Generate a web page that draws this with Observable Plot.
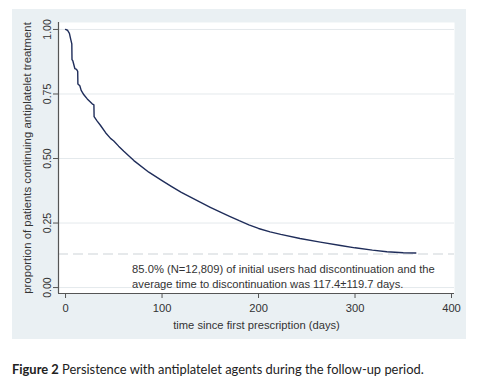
<!DOCTYPE html>
<html>
<head>
<meta charset="utf-8">
<script src="https://cdn.jsdelivr.net/npm/d3@7"></script>
<script src="https://cdn.jsdelivr.net/npm/@observablehq/plot@0.6"></script>
<style>
  html, body { margin: 0; padding: 0; background: #ffffff; }
  #wrap { position: relative; width: 483px; height: 392px; }
  #chart { position: absolute; left: 12px; top: 9px; }
  #caption { position: absolute; left: 12px; top: 362px; font-family: Lato, "Open Sans", sans-serif; font-size: 12.9px; line-height: 15px; color: #222; white-space: nowrap; }
  #caption b { font-weight: 700; }
</style>
</head>
<body>
<div id="wrap">
  <div id="chart"></div>
  <div id="caption"><b>Figure 2</b> Persistence with antiplatelet agents during the follow-up period.</div>
</div>
<script>
// Kaplan–Meier persistence curve
const days = [0, 2, 4, 5.5, 6.5, 6.7, 7.6, 9.7, 11.4, 12.6, 12.8, 14.8, 16.2, 19, 22.5, 27.6, 29.4, 29.6, 32.8, 36.3, 41.5, 46.6, 50, 55, 60.4, 70.8, 86.3, 100, 110, 120, 130, 140, 150, 160, 170, 180, 190, 200, 212, 223, 243, 264, 285, 300, 318, 333, 350, 363];
const proportion = [1.0, 0.997, 0.985, 0.96, 0.944, 0.883, 0.878, 0.848, 0.845, 0.838, 0.789, 0.782, 0.764, 0.747, 0.731, 0.712, 0.708, 0.662, 0.645, 0.628, 0.600, 0.578, 0.568, 0.548, 0.528, 0.492, 0.447, 0.414, 0.391, 0.369, 0.349, 0.330, 0.311, 0.293, 0.276, 0.259, 0.243, 0.229, 0.216, 0.206, 0.190, 0.176, 0.163, 0.154, 0.145, 0.139, 0.135, 0.134];
const referenceLevel = [0.13];
const xTicks = [0, 100, 200, 300, 400];
const yTicks = [0, 0.25, 0.5, 0.75, 1];
const yTickLabels = ["0.00", "0.25", "0.50", "0.75", "1.00"];
const xTitle = "time since first prescription (days)";
const yTitle = "proportion of patients continuing antiplatelet treatment";
const noteLines = ["85.0% (N=12,809) of initial users had discontinuation and the", "average time to discontinuation was 117.4\u00b1119.7 days."];
const noteAt = {day: 69.0, value: 0.0};

const curve = days.map((d, i) => ({day: d, p: proportion[i]}));
const xDomain = [-7.3, 403.1];
const yDomain = [-0.023, 1.027];
const font = "'Liberation Sans', Arial, Helvetica, sans-serif";

const chart = Plot.plot({
  width: 454,
  height: 330,
  marginLeft: 46,
  marginRight: 12,
  marginTop: 13,
  marginBottom: 46,
  style: {background: "#eaf0f3", fontFamily: font, fontSize: "11px", color: "#333", overflow: "visible"},
  x: {domain: xDomain},
  y: {domain: yDomain},
  marks: [
    Plot.frame({fill: "#ffffff", stroke: null}),
    Plot.gridY(yTicks, {stroke: "#e4e9ec", strokeOpacity: 1, strokeWidth: 1}),
    Plot.ruleY(referenceLevel, {stroke: "#cdd3d7", strokeWidth: 1.2, strokeDasharray: "10,5"}),
    Plot.line(curve, {x: "day", y: "p", stroke: "#1f2d5a", strokeWidth: 1.4, curve: "linear"}),
    Plot.ruleX([xDomain[0]], {stroke: "#555", strokeWidth: 1.2}),
    Plot.ruleY([yDomain[0]], {stroke: "#555", strokeWidth: 1.2}),
    Plot.axisX({ticks: xTicks, tickSize: 5, tickPadding: 6, stroke: "#555", label: null, fontSize: 11.2, fill: "#333"}),
    Plot.axisY({ticks: yTicks, tickSize: 5, tickPadding: 3, tickRotate: -90, tickFormat: (d) => yTickLabels[yTicks.indexOf(d)], stroke: "#555", label: null, fontSize: 10.5, fill: "#333"}),
    Plot.text([xTitle], {frameAnchor: "bottom", text: (d) => d, dy: 32, lineAnchor: "middle", fontSize: 11.2, fill: "#333"}),
    Plot.text([yTitle], {frameAnchor: "left", text: (d) => d, rotate: -90, dx: -31, textAnchor: "middle", lineAnchor: "middle", fontSize: 11.4, fill: "#333"}),
    Plot.text([noteLines.join("\n")], {x: () => noteAt.day, y: () => noteAt.value, text: (d) => d, textAnchor: "start", lineAnchor: "bottom", lineHeight: 1.33, dy: 0, fontSize: 11.2, fill: "#333"})
  ]
});
document.getElementById("chart").appendChild(chart);
</script>
</body>
</html>
